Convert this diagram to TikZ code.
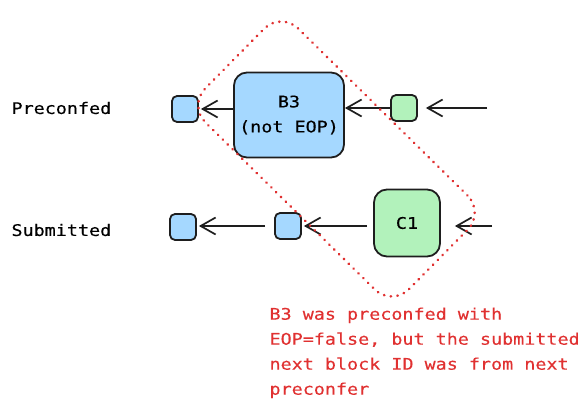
\documentclass[tikz,border=0pt]{standalone}
\usepackage{xcolor}
\usepackage{fontspec}
\setmonofont[FakeStretch=1.15,FakeBold=0.3]{DejaVu Sans Mono}
\usepackage{tikz}
\usetikzlibrary{positioning}
\usetikzlibrary{arrows.meta}
\definecolor{ink}{HTML}{1E1E1E}
\definecolor{boxblue}{HTML}{A5D8FF}
\definecolor{boxgreen}{HTML}{B2F2BB}
\definecolor{notered}{HTML}{E03131}
\tikzset{
	blk/.style={draw=ink, line width=1.8pt, rounded corners=13pt, align=center, inner sep=0pt},
	slot/.style={draw=ink, line width=1.8pt, rounded corners=5pt, minimum size=26pt, inner sep=0pt},
	flow/.style={draw=ink, line width=1.7pt, -{Straight Barb[length=15pt,width=17pt]}},
	grp/.style={draw=notered, line width=2.6pt, line cap=round, dash pattern=on 0.4pt off 6.4pt, rounded corners=24pt},
}

\begin{document}
\begin{tikzpicture}[x=1pt,y=-1pt,font=\ttfamily\fontsize{16}{25}\selectfont]
					\useasboundingbox (0,0) rectangle (586,414);
					% Row labels
					\node[anchor=west] (lpre) at (8,108) {Preconfed};
					\node[anchor=west] (lsub) at (8,230) {Submitted};
					% Preconfed row
					\node[slot, fill=boxblue] (pout) at (185,109) {};
					\node[blk, fill=boxblue, minimum width=110pt, minimum height=85pt] (b3) at (289,115) {B3\\(not EOP)};
					\node[slot, fill=boxgreen] (pnext) at (404,108) {};
					\coordinate (pin) at (487,108);
					\draw[flow, shorten >=8pt] (pin) -- (pnext.east);
					\draw[flow] (pnext.west) -- (b3.east |- pnext.west);
					\draw[flow, shorten >=2pt] (b3.west |- pout.east) -- (pout.east);
					% Submitted row
					\node[slot, fill=boxblue] (sout) at (183,227) {};
					\node[slot, fill=boxblue] (smid) at (288,226) {};
					\node[blk, fill=boxgreen, minimum width=66pt, minimum height=67pt] (c1) at (407,223) {C1};
					\coordinate (sin) at (492,226);
					\draw[flow, shorten >=14pt] (sin) -- (c1.east |- sin);
					\draw[flow, shorten <=6pt, shorten >=2pt] (c1.west |- smid.east) -- (smid.east);
					\draw[flow, shorten <=9pt, shorten >=2pt] (smid.west) -- (sout.east |- smid.west);
					% Dotted group round B3 and C1
					\node[grp, rotate=-44.6, minimum width=286pt, minimum height=132pt] (mix) at (336.5,159) {};
					% Note
					\node[anchor=north west, align=left, text=notered] (note) at (266,304) {B3 was preconfed with\\EOP=false, but the submitted\\next block ID was from next\\preconfer};
				\end{tikzpicture}
\end{document}
